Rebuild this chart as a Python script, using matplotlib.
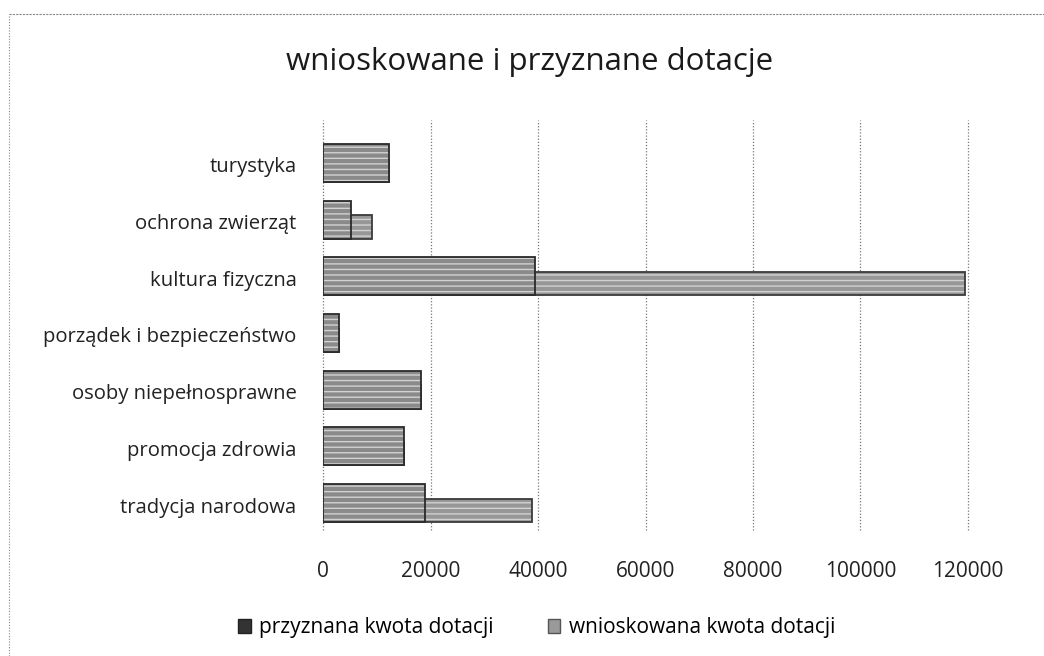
import numpy as np
import matplotlib.pyplot as plt
import matplotlib
from matplotlib.patches import Patch

matplotlib.rcParams['font.family'] = ['Open Sans', 'DejaVu Sans']
matplotlib.rcParams['hatch.linewidth'] = 1.0

# dane (od dołu do góry)
kategorie = ['tradycja narodowa', 'promocja zdrowia', 'osoby niepełnosprawne',
             'porządek i bezpieczeństwo', 'kultura fizyczna', 'ochrona zwierząt',
             'turystyka']
przyznana = [19000, 15000, 18200, 3000, 39500, 5200, 12200]
wnioskowana = [38800, 15000, 18200, 3000, 119500, 9100, 12200]
ticki = [0, 20000, 40000, 60000, 80000, 100000, 120000]

fig = plt.figure(figsize=(10.44, 6.56), dpi=100)
ax = fig.add_axes([0.3094, 0.192, 0.6178, 0.625])

y = np.arange(len(kategorie))


def slupki(wartosci, wys, kolor, kontur, z):
    # wypelnienie z jasnym kreskowaniem, potem ciemny kontur
    ax.barh(y - 0.30, wartosci, height=wys, align='edge', color=kolor,
            edgecolor='#d2d2d2', linewidth=0, hatch='---', zorder=z)
    ax.barh(y - 0.30, wartosci, height=wys, align='edge', fill=False,
            edgecolor=kontur, linewidth=1.3, zorder=z + 0.5)


slupki(wnioskowana, 0.41, '#979797', '#3a3a3a', 3)
slupki(przyznana, 0.67, '#8a8a8a', '#2a2a2a', 4)

ax.set_xlim(0, 120000)
ax.set_ylim(-0.44, 6.79)
ax.set_xticks(ticki)
ax.set_xticklabels([str(t) for t in ticki], fontsize=15, color='#222222')
ax.set_yticks(y)
ax.set_yticklabels(kategorie, fontsize=14.6, color='#222222')
ax.tick_params(axis='x', length=0, pad=22)
ax.tick_params(axis='y', length=0, pad=19)
for s in ax.spines.values():
    s.set_visible(False)
ax.xaxis.grid(True, linestyle=(0, (1, 1.5)), color='#777777', linewidth=0.9, zorder=0)
for g in ax.get_xgridlines():
    g.set_clip_on(False)
ax.set_axisbelow(True)

fig.text(0.507, 0.905, 'wnioskowane i przyznane dotacje', ha='center', va='center',
         fontsize=22.5, color='#1a1a1a')

uchwyty = [Patch(facecolor='#333333', edgecolor='#222222', label='przyznana kwota dotacji'),
           Patch(facecolor='#9a9a9a', edgecolor='#555555', label='wnioskowana kwota dotacji')]
fig.legend(handles=uchwyty, loc='center', bbox_to_anchor=(0.514, 0.043), ncol=2,
           frameon=False, fontsize=15, handlelength=0.6, handleheight=0.6,
           handletextpad=0.4, columnspacing=2.6)

# ramka wykresu (zeskanowana)
fig.add_artist(plt.Line2D([0.009, 1.0], [0.979, 0.979], color='#888888',
                          linewidth=0.8, linestyle=(0, (2, 1))))
fig.add_artist(plt.Line2D([0.009, 0.009], [0.0, 0.979], color='#888888',
                          linewidth=0.8, linestyle=(0, (1, 1.5))))

fig.savefig('out.png', dpi=100)
